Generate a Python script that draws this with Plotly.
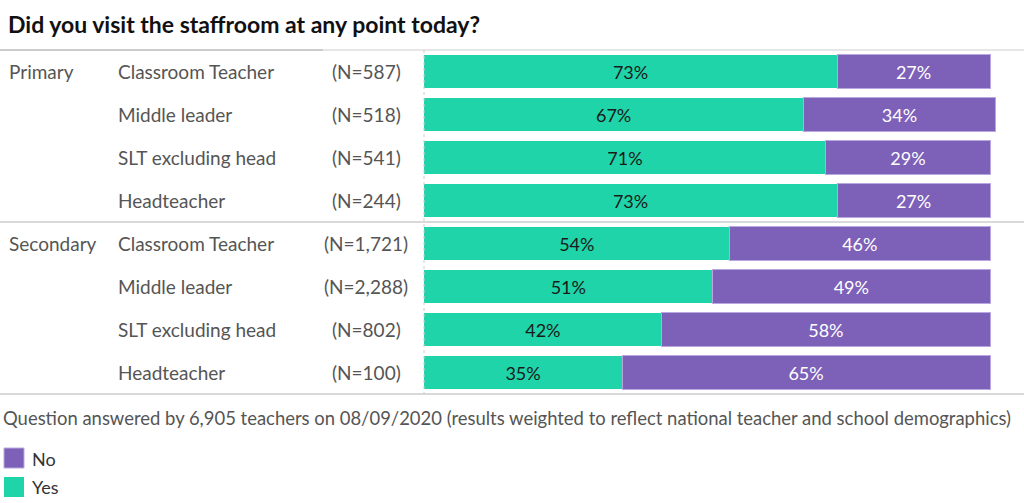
import plotly.graph_objects as go

groups = ["Primary", "", "", "", "Secondary", "", "", ""]
roles = ["Classroom Teacher", "Middle leader", "SLT excluding head", "Headteacher",
         "Classroom Teacher", "Middle leader", "SLT excluding head", "Headteacher"]
counts = ["(N=587)", "(N=518)", "(N=541)", "(N=244)",
          "(N=1,721)", "(N=2,288)", "(N=802)", "(N=100)"]
yes_vals = [73, 67, 71, 73, 54, 51, 42, 35]
no_vals = [27, 34, 29, 27, 46, 49, 58, 65]

GREEN = "#1fd4a8"
PURPLE = "#7d60b8"
FONT = "Lato"

W, H = 1024, 503
L = 424
T = 50
B = 503 - 394
R = 0
PW = W - L - R
PH = H - T - B

def px(x):
    return (x - L) / PW

def py(y):
    return (H - B - y) / PH

ykeys = list(range(len(roles)))

fig = go.Figure()
fig.add_trace(go.Bar(
    y=ykeys, x=yes_vals, orientation="h", name="Yes",
    marker=dict(color=GREEN, line=dict(width=0)),
    text=[f"{v}%" for v in yes_vals], textposition="inside", insidetextanchor="middle",
    textfont=dict(color="#1a1a1a", size=18, family=FONT), width=0.77,
    hoverinfo="skip"))
fig.add_trace(go.Bar(
    y=ykeys, x=no_vals, orientation="h", name="No",
    marker=dict(color=PURPLE, line=dict(width=1, color="#b9a8e0")),
    text=[f"{v}%" for v in no_vals], textposition="inside", insidetextanchor="middle",
    textfont=dict(color="white", size=18, family=FONT), width=0.77,
    hoverinfo="skip"))

ann = []
for i in range(len(roles)):
    yp = 50 + 43 * i + 21.5
    if groups[i]:
        ann.append(dict(x=px(7), y=py(yp), xref="paper", yref="paper", text=groups[i],
                        showarrow=False, xanchor="left", yanchor="middle",
                        font=dict(size=19, color="#555", family=FONT)))
    ann.append(dict(x=px(116), y=py(yp), xref="paper", yref="paper", text=roles[i],
                    showarrow=False, xanchor="left", yanchor="middle",
                    font=dict(size=19, color="#555", family=FONT)))
    ann.append(dict(x=px(366), y=py(yp), xref="paper", yref="paper", text=counts[i],
                    showarrow=False, xanchor="center", yanchor="middle",
                    font=dict(size=19, color="#555", family=FONT)))

ann.append(dict(x=px(6), y=py(24), xref="paper", yref="paper",
                text="<b>Did you visit the staffroom at any point today?</b>",
                showarrow=False, xanchor="left", yanchor="middle",
                font=dict(size=23, color="#111", family=FONT)))
ann.append(dict(x=px(1), y=py(418), xref="paper", yref="paper",
                text="Question answered by 6,905 teachers on 08/09/2020 (results weighted to reflect national teacher and school demographics)",
                showarrow=False, xanchor="left", yanchor="middle",
                font=dict(size=18.45, color="#555", family=FONT)))
ann.append(dict(x=px(30), y=py(459), xref="paper", yref="paper", text="No",
                showarrow=False, xanchor="left", yanchor="middle",
                font=dict(size=18, color="#333", family=FONT)))
ann.append(dict(x=px(30), y=py(487), xref="paper", yref="paper", text="Yes",
                showarrow=False, xanchor="left", yanchor="middle",
                font=dict(size=18, color="#333", family=FONT)))

shapes = [
    dict(type="line", xref="paper", yref="paper", x0=px(0), x1=px(323), y0=py(50), y1=py(50),
         line=dict(color="#cccccc", width=2)),
    dict(type="line", xref="paper", yref="paper", x0=px(323), x1=px(1024), y0=py(50), y1=py(50),
         line=dict(color="#e6e6e6", width=2)),
    dict(type="line", xref="paper", yref="paper", x0=px(0), x1=px(1024), y0=py(222), y1=py(222),
         line=dict(color="#cccccc", width=1.5)),
    dict(type="line", xref="paper", yref="paper", x0=px(0), x1=px(1024), y0=py(394), y1=py(394),
         line=dict(color="#cccccc", width=1.5)),
    dict(type="line", xref="paper", yref="paper", x0=px(424), x1=px(424), y0=py(50), y1=py(394),
         line=dict(color="#cccccc", width=1, dash="dot")),
    dict(type="rect", xref="paper", yref="paper", x0=px(4), x1=px(24), y0=py(448), y1=py(468),
         fillcolor=PURPLE, line=dict(color="#b9a8e0", width=1)),
    dict(type="rect", xref="paper", yref="paper", x0=px(4), x1=px(24), y0=py(477), y1=py(497),
         fillcolor=GREEN, line=dict(width=0)),
]

fig.update_layout(
    barmode="stack", width=W, height=H,
    margin=dict(l=L, r=R, t=T, b=B, pad=0),
    paper_bgcolor="white", plot_bgcolor="white",
    showlegend=False,
    xaxis=dict(range=[0, PW / 5.66], visible=False, fixedrange=True),
    yaxis=dict(range=[len(roles) - 0.5, -0.5], visible=False, fixedrange=True),
    annotations=ann, shapes=shapes,
    font=dict(family=FONT),
    uniformtext=dict(mode=False),
)

fig.write_html("out.html", config={"displayModeBar": False},
               post_script="document.body.style.margin='0';document.body.style.overflow='hidden';")
